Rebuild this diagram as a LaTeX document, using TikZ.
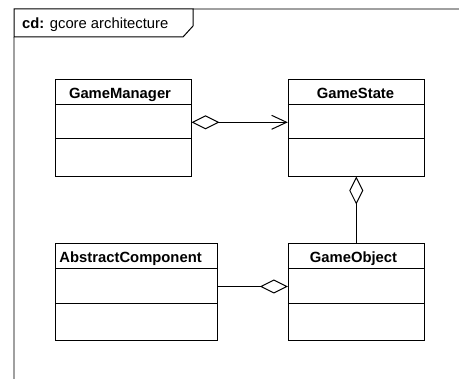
\documentclass[tikz,border=0pt]{standalone}
\usepackage{fontspec}
\setmainfont{Liberation Sans}
\usetikzlibrary{arrows.meta}
\tikzset{
  agg/.tip={Diamond[open,length=28pt,width=14pt,line width=1pt]},
  nav/.tip={Straight Barb[length=15pt,width=14pt,line width=1pt]}
}
\begin{document}
\begin{tikzpicture}[x=1pt,y=-1pt,
  classbox/.style={draw=black,line width=1pt,rectangle,inner sep=0pt,minimum height=97pt},
  cname/.style={font=\fontsize{14.8}{17}\selectfont\bfseries,inner sep=0pt,anchor=base},
  conn/.style={draw=black,line width=1pt}
]
\useasboundingbox (0,0) rectangle (459,379);
% frame
\draw[draw={rgb,255:red,160;green,160;blue,160},line width=1.5pt] (459,9) -- (193,9);
\draw[draw={rgb,255:red,160;green,160;blue,160},line width=1.5pt] (14,37) -- (14,379);
\draw[black,line width=1pt] (14,37) -- (14,9) -- (193,9) -- (193,26) -- (183,37) -- cycle;
\node[inner sep=0pt,anchor=base west,font=\fontsize{14.8}{17}\selectfont] (title) at (22,28.3) {\textbf{cd:} gcore architecture};
% classes
\node[classbox,minimum width=135.3pt] (gm) at (123.4,127.6) {};
\node[classbox,minimum width=136pt] (gs) at (356.3,127.6) {};
\node[classbox,minimum width=161.6pt] (ac) at (136.5,292.2) {};
\node[classbox,minimum width=136pt] (go) at (356.3,292.2) {};
\foreach \n in {gm,gs,ac,go}{
  \draw[line width=1pt] ([yshift=-25.5pt]\n.north west) -- ([yshift=-25.5pt]\n.north east);
  \draw[line width=1pt] ([yshift=-60pt]\n.north west) -- ([yshift=-60pt]\n.north east);
}
\node[cname] (gmt) at (120,98.3) {GameManager};
\node[cname] (gst) at (355.5,98.3) {GameState};
\node[cname,anchor=base west] (act) at (59.3,262.5) {AbstractComponent};
\node[cname] (got) at (353.5,262.5) {GameObject};
% connectors
\coordinate (r1) at (0,122.3);
\coordinate (r2) at (0,286.5);
\draw[conn,{agg}-{nav}] (gm.east |- r1) -- (gs.west |- r1);
\draw[conn,{agg}-] (gs.south) -- (go.north);
\draw[conn,-{agg}] (ac.east |- r2) -- (go.west |- r2);
\end{tikzpicture}
\end{document}
